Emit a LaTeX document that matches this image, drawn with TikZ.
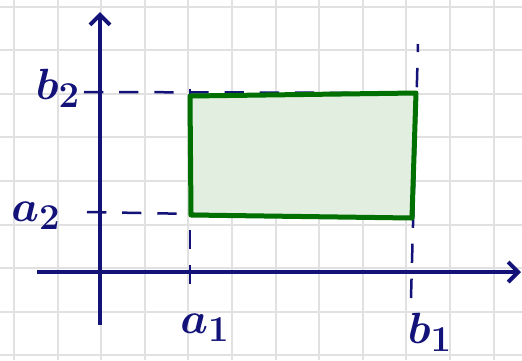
\documentclass[tikz,border=0pt]{standalone}
\usetikzlibrary{arrows.meta}
\definecolor{mucxanh}{RGB}{18,18,120}
\definecolor{vienluc}{RGB}{0,112,0}
\definecolor{nenluc}{RGB}{226,238,224}
\definecolor{luoi}{RGB}{225,225,225}
\tikzset{
	oluoi/.style={luoi, line width=0.04cm},
	truc/.style={mucxanh, line width=0.08cm, -{Straight Barb[length=0.2cm, width=0.4cm]}},
	netdut/.style={mucxanh, line width=0.05cm, dash pattern=on 11pt off 9pt},
	nhan/.style={mucxanh, font=\Huge\boldmath}
}
\begin{document}
\begin{tikzpicture}[x=0.02cm, y=-0.02cm]
		\useasboundingbox (0,0) rectangle (522,360);
		
		% Lưới ô vuông
		\fill[white] (0,0) rectangle (522,360);
		\foreach \k in {0,...,11} \draw[oluoi] ({14+43.6*\k},0) -- ({14+43.6*\k},360);
		\foreach \k in {0,...,8} \draw[oluoi] (0,{6.5+43.6*\k}) -- (522,{6.5+43.6*\k});
		
		% Các đỉnh của hình chữ nhật
		\coordinate (A) at (190,96);
		\coordinate (B) at (416,93);
		\coordinate (C) at (412,218);
		\coordinate (D) at (191,215);
		
		% Điểm trên các trục
		\coordinate (Yb) at (84,92);
		\coordinate (Ya) at (87,212);
		\coordinate (Xa) at (190,284);
		\coordinate (Xb) at (411,298);
		\coordinate (Xa') at (190,84);
		\coordinate (Xb') at (418,44);
		
		% Tô màu hình chữ nhật
		\fill[nenluc] (A) -- (B) -- (C) -- (D) -- cycle;
		
		% Trục tọa độ
		\draw[truc] (37,272) -- (521,272);
		\draw[truc] (100,325) -- (100,12);
		
		% Các đường nét đứt
		\draw[netdut] (Yb) -- (B);
		\draw[netdut] (Ya) -- (C);
		\draw[netdut] (Xa) -- (Xa');
		\draw[netdut] (Xb) -- (Xb');
		
		% Viền hình chữ nhật
		\draw[vienluc, line width=0.1cm, line join=round] (A) -- (B) -- (C) -- (D) -- cycle;
		
		% Nhãn
		\node[nhan] (lb2) at (58,88) {$b_2$};
		\node[nhan] (la2) at (36,216) {$a_2$};
		\node[nhan] (la1) at (205,328) {$a_1$};
		\node[nhan] (lb1) at (430,332) {$b_1$};
		\end{tikzpicture}
\end{document}
